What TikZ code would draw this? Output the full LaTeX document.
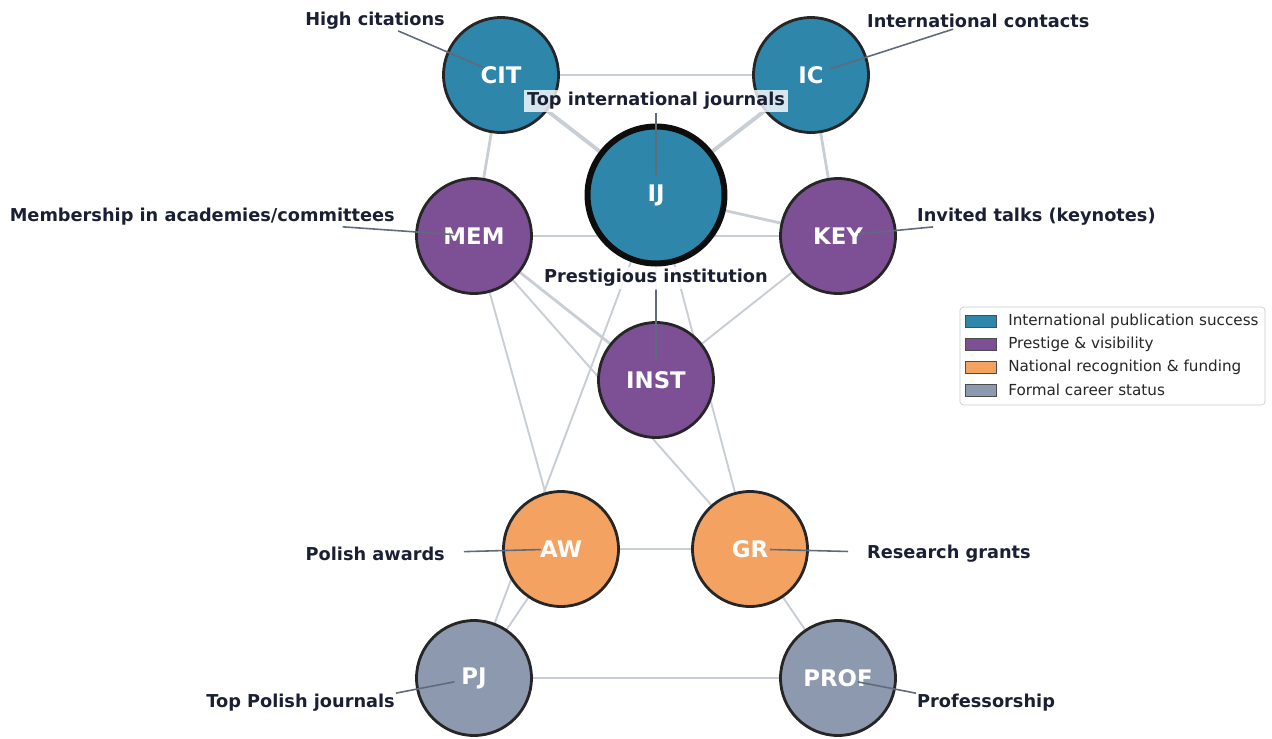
\documentclass[tikz,border=0pt]{standalone}
\usepackage{fontspec}
\setmainfont{DejaVu Sans}
\usetikzlibrary{positioning, backgrounds}

\definecolor{intblue}{HTML}{2E86AB}
\definecolor{prestige}{HTML}{7D5096}
\definecolor{natorange}{HTML}{F4A261}
\definecolor{career}{HTML}{8D99AE}
\definecolor{edgegray}{HTML}{C9CED5}
\definecolor{leadgray}{HTML}{5F6B7A}
\definecolor{inkdark}{HTML}{1B1F33}

\tikzset{
  factor/.style={circle, draw=black!85, line width=1.6pt, minimum size=2.3cm, inner sep=0pt,
    text=white, font=\fontsize{13}{15}\selectfont\bfseries},
  hub/.style={factor, draw=black!95, line width=3.4pt, minimum size=2.74cm},
  tag/.style={font=\fontsize{10.1}{12}\selectfont\bfseries, text=inkdark, inner sep=0.5pt},
  tagbox/.style={tag, inner sep=1.5pt, fill=white, fill opacity=0.8, text opacity=1},
  leader/.style={draw=leadgray, line width=0.9pt, shorten >=0.4cm},
  thin link/.style={draw=edgegray, line width=1.1pt},
  mid link/.style={draw=edgegray, line width=1.6pt},
  thick link/.style={draw=edgegray, line width=2.2pt},
  keypatch/.style={draw=black!70, line width=0.5pt, minimum width=0.62cm, minimum height=0.24cm, inner sep=0pt},
  keytext/.style={anchor=west, font=\fontsize{8.65}{10}\selectfont, text=black!85, inner sep=0pt}
}

\begin{document}
\begin{tikzpicture}[x=0.02cm, y=-0.02cm]
    \useasboundingbox (0,0) rectangle (1272,738);

    % Factor nodes
    \node[factor, fill=intblue] (CIT) at (501, 75) {CIT};
    \node[factor, fill=intblue] (IC) at (811, 75) {IC};
    \node[hub, fill=intblue] (IJ) at (656, 195) {IJ};
    \node[factor, fill=prestige] (MEM) at (474, 236) {MEM};
    \node[factor, fill=prestige] (KEY) at (838, 236) {KEY};
    \node[factor, fill=prestige] (INST) at (656, 380) {INST};
    \node[factor, fill=natorange] (AW) at (561, 549) {AW};
    \node[factor, fill=natorange] (GR) at (750, 549) {GR};
    \node[factor, fill=career] (PJ) at (474, 678) {PJ};
    \node[factor, fill=career] (PROF) at (838, 678) {PROF};

    % Links
    \begin{scope}[on background layer]
        \draw[thick link] (CIT) -- (IJ);
        \draw[thick link] (IC) -- (IJ);
        \draw[mid link] (CIT) -- (IC);
        \draw[mid link] (CIT) -- (MEM);
        \draw[mid link] (IC) -- (KEY);
        \draw[mid link] (MEM) -- (KEY);
        \draw[mid link] (IJ) -- (KEY);
        \draw[mid link] (MEM) -- (INST);
        \draw[mid link] (AW) -- (GR);
        \draw[mid link] (PJ) -- (PROF);
        \draw[thin link] (MEM) -- (GR);
        \draw[thin link] (MEM) -- (AW);
        \draw[thin link] (IJ) -- (PJ);
        \draw[thin link] (IJ) -- (GR);
        \draw[thin link] (IJ) -- (INST);
        \draw[thin link] (KEY) -- (INST);
        \draw[thin link] (AW) -- (PJ);
        \draw[thin link] (GR) -- (PROF);
    \end{scope}

    % Labels
    \node[tag, anchor=east] (tCIT) at (446, 21) {High citations};
    \node[tag, anchor=west] (tIC) at (866, 21) {International contacts};
    \node[tagbox] (tIJ) at (656, 101) {Top international journals};
    \node[tag, anchor=east] (tMEM) at (396, 217) {Membership in academies/committees};
    \node[tag, anchor=west] (tKEY) at (916, 217) {Invited talks (keynotes)};
    \node[tagbox] (tINST) at (656, 278) {Prestigious institution};
    \node[tag, anchor=east] (tAW) at (446, 554) {Polish awards};
    \node[tag, anchor=west] (tGR) at (866, 554) {Research grants};
    \node[tag, anchor=east] (tPJ) at (396, 703) {Top Polish journals};
    \node[tag, anchor=west] (tPROF) at (916, 703) {Professorship};

    % Leaders
    \draw[leader] (tCIT) -- (CIT.center);
    \draw[leader] (tIC) -- (IC.center);
    \draw[leader] (tIJ) -- (IJ.center);
    \draw[leader] (tMEM) -- (MEM.center);
    \draw[leader] (tKEY) -- (KEY.center);
    \draw[leader] (tINST) -- (INST.center);
    \draw[leader, shorten <=0.36cm] (tAW) -- (AW.center);
    \draw[leader, shorten <=0.36cm] (tGR) -- (GR.center);
    \draw[leader] (tPJ.north east) -- (PJ.center);
    \draw[leader] (tPROF.north west) -- (PROF.center);

    % Legend
    \draw[black!20, fill=white, rounded corners=2pt] (960, 307) rectangle (1265, 405);
    \node[keypatch, fill=intblue] (k1) at (981, 321) {};
    \node[keytext, right=0.22cm of k1] {International publication success};
    \node[keypatch, fill=prestige] (k2) at (981, 344) {};
    \node[keytext, right=0.22cm of k2] {Prestige \& visibility};
    \node[keypatch, fill=natorange] (k3) at (981, 367) {};
    \node[keytext, right=0.22cm of k3] {National recognition \& funding};
    \node[keypatch, fill=career] (k4) at (981, 390) {};
    \node[keytext, right=0.22cm of k4] {Formal career status};
\end{tikzpicture}
\end{document}
